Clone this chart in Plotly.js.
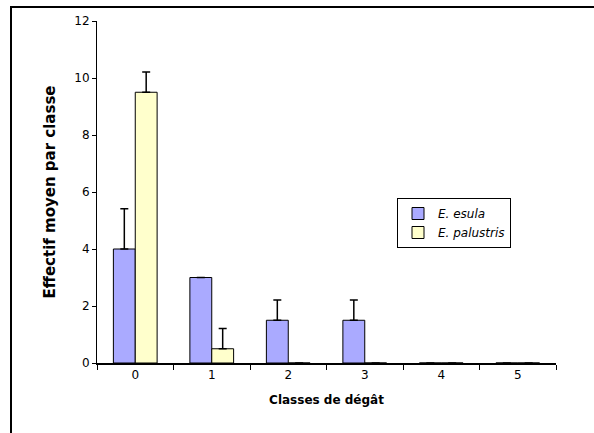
<!DOCTYPE html>
<html>
<head>
<meta charset="utf-8">
<script src="https://cdn.plot.ly/plotly-3.0.1.min.js"></script>
<style>
html,body{margin:0;padding:0;background:#fff;}
#chart{width:594px;height:433px;}
</style>
</head>
<body>
<div id="chart"></div>
<script>
const categories = ['0', '1', '2', '3', '4', '5'];
const esulaValues = [4, 3, 1.5, 1.5, 0, 0];
const esulaErrors = [1.41, 0, 0.71, 0.71, 0, 0];
const palustrisValues = [9.5, 0.5, 0, 0, 0, 0];
const palustrisErrors = [0.71, 0.71, 0, 0, 0, 0];
const seriesNames = ['E. esula', 'E. palustris'];

const font = 'DejaVu Sans, Verdana, sans-serif';

const traces = [
  {
    type: 'bar', x: categories, y: esulaValues, name: seriesNames[0],
    marker: {color: '#AAAAFF', line: {color: '#000', width: 1}},
    error_y: {type: 'data', array: esulaErrors, arrayminus: esulaValues.map(() => 0), symmetric: false,
              color: '#000', thickness: 1.5, width: 4}
  },
  {
    type: 'bar', x: categories, y: palustrisValues, name: seriesNames[1],
    marker: {color: '#FFFFCC', line: {color: '#000', width: 1}},
    error_y: {type: 'data', array: palustrisErrors, arrayminus: palustrisValues.map(() => 0), symmetric: false,
              color: '#000', thickness: 1.5, width: 4}
  }
];

const layout = {
  width: 594, height: 433,
  margin: {l: 97, r: 38, t: 21, b: 70},
  paper_bgcolor: '#fff', plot_bgcolor: '#fff',
  font: {family: font, size: 12, color: '#000'},
  barmode: 'group', bargap: 0.4286, bargroupgap: 0,
  showlegend: true,
  legend: {
    x: (397 - 97) / 459, y: (363 - 198) / 342, xanchor: 'left', yanchor: 'top',
    bordercolor: '#000', borderwidth: 1, bgcolor: '#fff',
    font: {family: font, size: 12, style: 'italic', color: '#000'},
    itemwidth: 30, tracegroupgap: 0
  },
  xaxis: {
    type: 'category', showline: true, linecolor: '#000', linewidth: 1.5,
    ticks: 'outside', tickson: 'boundaries', ticklen: 5, tickcolor: '#000', tickwidth: 1,
    showgrid: false, zeroline: false,
    tickfont: {family: font, size: 12},
    title: {text: 'Classes de dégât', font: {family: font, size: 12, weight: 'bold'}, standoff: 14},
    automargin: false
  },
  yaxis: {
    range: [0, 12], dtick: 2, showline: true, linecolor: '#000', linewidth: 1,
    ticks: 'outside', ticklen: 4, tickcolor: '#000',
    showgrid: false, zeroline: false,
    tickfont: {family: font, size: 12},
    title: {text: 'Effectif moyen par classe', font: {family: font, size: 15, weight: 'bold'}, standoff: 15},
    automargin: false
  },
  shapes: [
    {type: 'rect', xref: 'paper', yref: 'paper',
     x0: (11 - 97) / 459, x1: 1.3, y0: -0.5, y1: (363 - 7) / 342,
     line: {color: '#000', width: 2}, fillcolor: 'rgba(0,0,0,0)', layer: 'above'}
  ]
};

Plotly.newPlot('chart', traces, layout, {displayModeBar: false, staticPlot: true});
</script>
</body>
</html>
